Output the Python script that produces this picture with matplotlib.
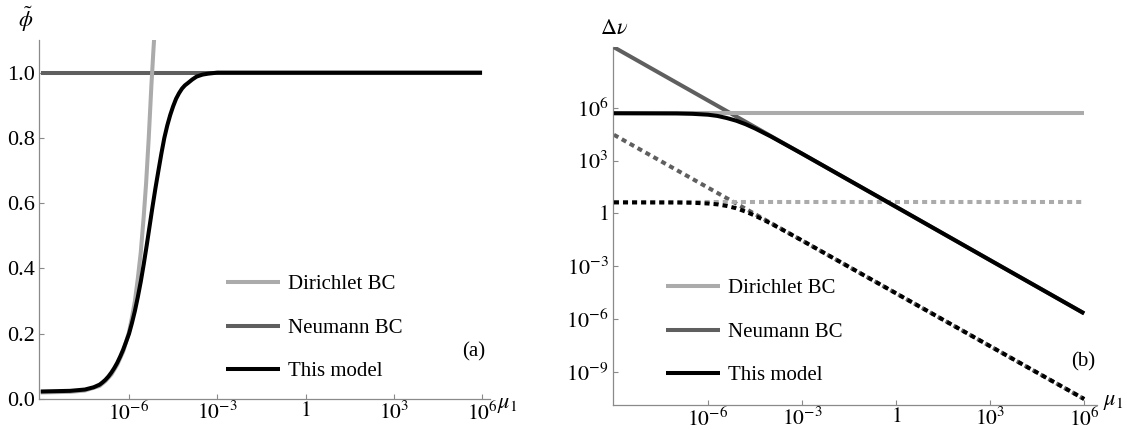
import numpy as np
import matplotlib
matplotlib.use("Agg")
import matplotlib.pyplot as plt
from matplotlib.ticker import FixedLocator, FixedFormatter, NullLocator

plt.rcParams['font.family'] = ['Liberation Serif', 'DejaVu Serif']
plt.rcParams['mathtext.fontset'] = 'stix'

# ---- panel (a): phi tilde vs mu_1 (exponents of mu_1) ----
a_neu_exp = [-9, 6]
a_neu_val = [1.0, 1.0]
a_dir_exp = [-9.0, -8.0, -7.5, -7.0, -6.8, -6.6, -6.4, -6.2, -6.0, -5.9, -5.8, -5.7,
             -5.6, -5.5, -5.42, -5.33, -5.24, -5.17, -5.08]
a_dir_val = [0.020, 0.022, 0.026, 0.040, 0.055, 0.075, 0.105, 0.145, 0.205, 0.25, 0.30, 0.37,
             0.45, 0.56, 0.66, 0.80, 0.96, 1.07, 1.2]
a_mod_exp = [-9.0, -8.0, -7.5, -7.2, -7.0, -6.9, -6.8, -6.7, -6.6, -6.5, -6.4, -6.3, -6.2, -6.1,
             -6.0, -5.9, -5.8, -5.7, -5.6, -5.5, -5.4, -5.3, -5.2, -5.1, -5.0, -4.9, -4.8,
             -4.7, -4.6, -4.5, -4.4, -4.3, -4.2, -4.1, -4.0, -3.85, -3.7, -3.5, -3.3, -3.0, 0.0, 6.0]
a_mod_val = [0.023, 0.025, 0.029, 0.036, 0.044, 0.051, 0.059, 0.069, 0.081, 0.095, 0.111, 0.130,
             0.151, 0.175, 0.200, 0.233, 0.270, 0.313, 0.360, 0.413, 0.470, 0.530, 0.590, 0.647,
             0.700, 0.752, 0.800, 0.838, 0.870, 0.897, 0.920, 0.937, 0.951, 0.961, 0.968, 0.979,
             0.988, 0.994, 0.997, 1.0, 1.0, 1.0]

# ---- panel (b): Delta nu vs mu_1 (exponents of both) ----
b_dir_exp = [-9, 6]
b_dir_solid = [5.68, 5.68]
b_dir_dot = [0.62, 0.62]
b_neu_exp = [-9, 6]
b_neu_solid = [9.43, -5.68]
b_neu_dot = [4.46, -10.54]
b_mod_exp = [-9.0, -7.0, -6.5, -6.0, -5.7, -5.4, -5.1, -4.8, -4.5, -4.0, -3.5, -3.0, 0.0, 3.0, 6.0]
b_mod_solid = [5.68, 5.67, 5.65, 5.60, 5.53, 5.41, 5.26, 5.06, 4.82, 4.37, 3.88, 3.39, 0.37, -2.66, -5.68]
b_mod_dot = [0.62, 0.614, 0.60, 0.56, 0.51, 0.42, 0.29, 0.10, -0.13, -0.57, -1.05, -1.54, -4.54, -7.54, -10.54]

x_ticks = [1e-6, 1e-3, 1, 1e3, 1e6]
x_ticklabels = [r'$10^{-6}$', r'$10^{-3}$', r'$1$', r'$10^{3}$', r'$10^{6}$']
a_yticks = [0.0, 0.2, 0.4, 0.6, 0.8, 1.0]
a_yticklabels = ['0.0', '0.2', '0.4', '0.6', '0.8', '1.0']
b_yticks = [1e-9, 1e-6, 1e-3, 1, 1e3, 1e6]
b_yticklabels = [r'$10^{-9}$', r'$10^{-6}$', r'$10^{-3}$', r'$1$', r'$10^{3}$', r'$10^{6}$']

labels = ['Dirichlet BC', 'Neumann BC', 'This model']
c_dir = '#ababab'
c_neu = '#5f5f5f'
c_mod = '#000000'
lw = 2.9
dots = (0, (1.25, 1.0))


def p10(v):
    return 10.0 ** np.asarray(v, dtype=float)


def style_axes(ax):
    for s in ['top', 'right']:
        ax.spines[s].set_visible(False)
    for s in ['left', 'bottom']:
        ax.spines[s].set_color('#8a8a8a')
        ax.spines[s].set_linewidth(0.9)
    ax.tick_params(direction='in', length=3.5, width=0.8, color='#8a8a8a')
    ax.tick_params(axis='x', labelsize=15.5, pad=2)
    ax.tick_params(axis='y', labelsize=16, pad=3)
    ax.xaxis.set_minor_locator(NullLocator())
    ax.yaxis.set_minor_locator(NullLocator())


fig = plt.figure(figsize=(11.27, 4.30), dpi=100)

# panel (a)
ax1 = fig.add_axes([0.0346, 0.0721, 0.4002, 0.8349])
ax1.set_xscale('log')
ax1.plot(p10(a_neu_exp), a_neu_val, color=c_neu, lw=lw, solid_capstyle='butt', zorder=2)
ax1.plot(p10(a_dir_exp), a_dir_val, color=c_dir, lw=lw, solid_capstyle='butt', zorder=3)
ax1.plot(p10(a_mod_exp), a_mod_val, color=c_mod, lw=lw, solid_capstyle='butt', zorder=4)
ax1.set_xlim(10 ** -9.06, 10 ** 6.27)
ax1.set_ylim(0, 1.1)
style_axes(ax1)
ax1.xaxis.set_major_locator(FixedLocator(x_ticks))
ax1.xaxis.set_major_formatter(FixedFormatter(x_ticklabels))
ax1.yaxis.set_major_locator(FixedLocator(a_yticks))
ax1.yaxis.set_major_formatter(FixedFormatter(a_yticklabels))

# panel (b)
ax2 = fig.add_axes([0.5439, 0.0581, 0.4295, 0.8333])
ax2.set_xscale('log')
ax2.set_yscale('log')
ax2.plot(p10(b_neu_exp), p10(b_neu_dot), color=c_neu, lw=lw, ls=dots, dash_capstyle='butt', zorder=2)
ax2.plot(p10(b_dir_exp), p10(b_dir_dot), color=c_dir, lw=lw, ls=dots, dash_capstyle='butt', zorder=3)
ax2.plot(p10(b_mod_exp), p10(b_mod_dot), color=c_mod, lw=lw, ls=dots, dash_capstyle='butt', zorder=4)
ax2.plot(p10(b_neu_exp), p10(b_neu_solid), color=c_neu, lw=lw, solid_capstyle='butt', zorder=5)
ax2.plot(p10(b_dir_exp), p10(b_dir_solid), color=c_dir, lw=lw, solid_capstyle='butt', zorder=6)
ax2.plot(p10(b_mod_exp), p10(b_mod_solid), color=c_mod, lw=lw, solid_capstyle='butt', zorder=7)
ax2.set_xlim(10 ** -9.03, 10 ** 6.41)
ax2.set_ylim(10 ** -10.88, 10 ** 9.46)
style_axes(ax2)
ax2.xaxis.set_major_locator(FixedLocator(x_ticks))
ax2.xaxis.set_major_formatter(FixedFormatter(x_ticklabels))
ax2.yaxis.set_major_locator(FixedLocator(b_yticks))
ax2.yaxis.set_major_formatter(FixedFormatter(b_yticklabels))

# legends (same look in both panels)
for ax, anchor in [(ax1, (0.2005, 0.2372)), (ax2, (0.5909, 0.2279))]:
    handles = [plt.Line2D([], [], color=c, lw=lw, solid_capstyle='butt')
               for c in (c_dir, c_neu, c_mod)]
    ax.legend(handles, labels, loc='center left', bbox_to_anchor=anchor,
              bbox_transform=fig.transFigure, frameon=False, fontsize=15,
              handlelength=2.6, handletextpad=0.38, labelspacing=1.14,
              borderpad=0, borderaxespad=0)

fig.text(0.4206, 0.1814, '(a)', fontsize=15, ha='center', va='center')
fig.text(0.9610, 0.1580, '(b)', fontsize=15, ha='center', va='center')
fig.text(0.0230, 0.9560, r'$\tilde{\phi}$', fontsize=16, ha='center', va='center')
fig.text(0.5450, 0.9320, r'$\Delta\nu$', fontsize=16, ha='center', va='center')
fig.text(0.4500, 0.0580, r'$\mu_1$', fontsize=16, ha='center', va='center')
fig.text(0.9876, 0.0630, r'$\mu_1$', fontsize=16, ha='center', va='center')

fig.savefig('out.png', dpi=100)
